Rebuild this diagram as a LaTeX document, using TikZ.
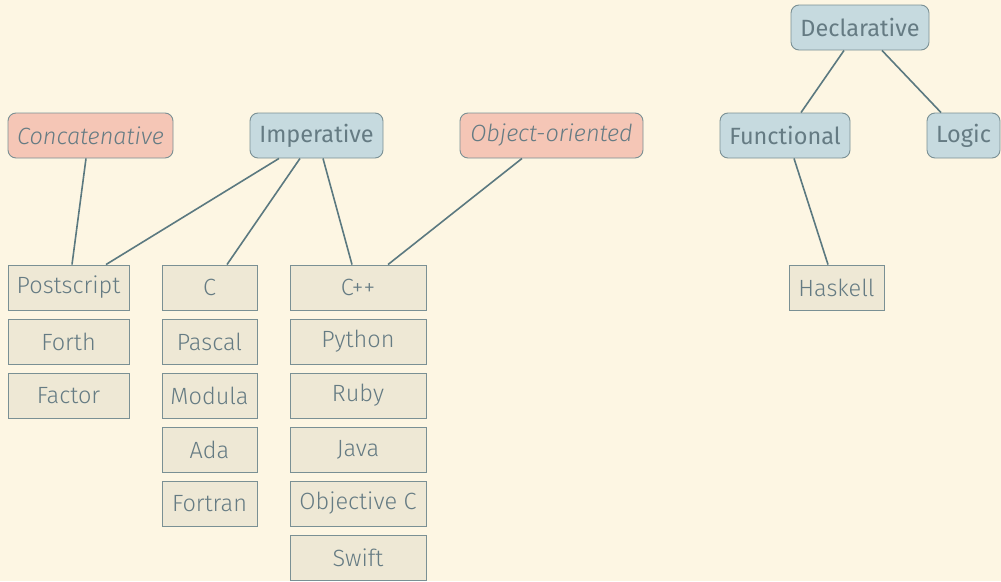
\documentclass[tikz,border=0pt]{standalone}
\usepackage{fontspec}
\setmainfont{Fira Sans}
\newfontfamily\leaffont{Fira Sans Light}
\usetikzlibrary{calc}
\definecolor{bgcol}{HTML}{FDF6E3}
\definecolor{leaffill}{HTML}{EEE8D5}
\definecolor{txtcol}{HTML}{657B83}
\definecolor{edgecol}{HTML}{5B7980}
\definecolor{bordercol}{HTML}{7A9094}
\definecolor{bluefill}{HTML}{C6DADF}
\definecolor{pinkfill}{HTML}{F5C6B6}
\tikzset{
  paradigm/.style={draw=bordercol, line width=0.9pt, rounded corners=8pt, fill=bluefill,
    text=txtcol, font=\fontsize{23.5}{26}\selectfont, inner sep=0pt, anchor=center},
  mixin/.style={paradigm, fill=pinkfill, font=\leaffont\fontsize{23.5}{26}\selectfont\itshape},
  lang/.style={draw=bordercol, line width=0.9pt, fill=leaffill, text=txtcol,
    font=\leaffont\fontsize{23.5}{26}\selectfont, inner sep=0pt, anchor=center},
  link/.style={draw=edgecol, line width=1.6pt}
}
\begin{document}
\begin{tikzpicture}[x=1pt,y=-1pt]
\fill[bgcol] (0,0) rectangle (1001,581);
\useasboundingbox (0,0) rectangle (1001,581);

% paradigm nodes
\node[mixin, minimum width=165pt, minimum height=45pt] (concat) at (90.5,135.5) {Concatenative};
\node[paradigm, minimum width=133pt, minimum height=45pt] (imp) at (316.5,135.5) {Imperative};
\node[mixin, minimum width=183pt, minimum height=45pt] (oo) at (551.5,135.5) {Object-oriented};
\node[paradigm, minimum width=138pt, minimum height=45pt] (decl) at (860,27.5) {Declarative};
\node[paradigm, minimum width=130pt, minimum height=45pt] (func) at (785,135.5) {Functional};
\node[paradigm, minimum width=73pt, minimum height=45pt] (logic) at (963.5,135.5) {Logic};

% languages, column one
\begin{scope}[every node/.style={lang, minimum width=121pt, minimum height=45pt}]
\node (post) at (68.5,287.5) {Postscript};
\node (forth) at (68.5,341.5) {Forth};
\node (factor) at (68.5,395.5) {Factor};
\end{scope}
% column two
\begin{scope}[every node/.style={lang, minimum width=95pt, minimum height=45pt}]
\node (c) at (209.5,287.5) {C};
\node (pascal) at (209.5,341.5) {Pascal};
\node (modula) at (209.5,395.5) {Modula};
\node (ada) at (209.5,449.5) {Ada};
\node (fortran) at (209.5,503.5) {Fortran};
\end{scope}
% column three
\begin{scope}[every node/.style={lang, minimum width=136pt, minimum height=45pt}]
\node (cpp) at (358,287.5) {C++};
\node (python) at (358,341.5) {Python};
\node (ruby) at (358,395.5) {Ruby};
\node (java) at (358,449.5) {Java};
\node (objc) at (358,503.5) {Objective C};
\node (swift) at (358,557.5) {Swift};
\end{scope}
\node[lang, minimum width=95pt, minimum height=45pt] (haskell) at (836.5,287.5) {Haskell};

% connectors
\draw[link] ([xshift=-4.5pt]concat.south) -- ([xshift=3.5pt]post.north);
\draw[link] ([xshift=-37.5pt]imp.south) -- ([xshift=37.5pt]post.north);
\draw[link] ([xshift=-16.5pt]imp.south) -- ([xshift=17.5pt]c.north);
\draw[link] ([xshift=6.5pt]imp.south) -- ([xshift=-6pt]cpp.north);
\draw[link] ([xshift=-29.5pt]oo.south) -- ([xshift=30pt]cpp.north);
\draw[link] ([xshift=-16pt]decl.south) -- ([xshift=16pt]func.north);
\draw[link] ([xshift=22pt]decl.south) -- ([xshift=-22.5pt]logic.north);
\draw[link] ([xshift=9pt]func.south) -- ([xshift=-8.5pt]haskell.north);
\end{tikzpicture}
\end{document}
